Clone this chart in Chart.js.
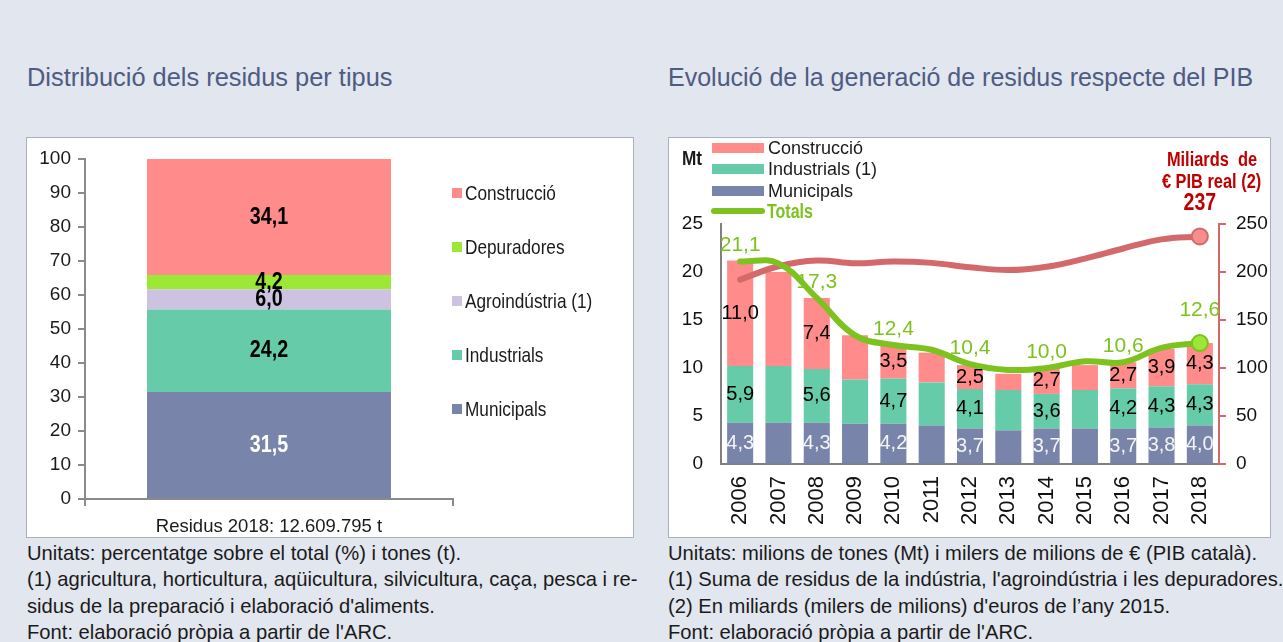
<!DOCTYPE html>
<html>
<head>
<meta charset="utf-8">
<script src="https://cdn.jsdelivr.net/npm/chart.js@4.4.1/dist/chart.umd.min.js"></script>
<style>
  body { margin: 0; width: 1283px; height: 642px; background: #e2e6ef; position: relative; overflow: hidden;
         font-family: 'Liberation Sans', Arial, sans-serif; color: #1a1a1a; }
  .abs { position: absolute; white-space: nowrap; }
  .title { font-size: 25.4px; color: #4e5b82; line-height: 30px; }
  .panel { background: #fff; border: 1px solid #a8aec6; box-sizing: border-box; }
  .cond { display: inline-block; transform: scaleX(0.82); transform-origin: left center; }
  .note { font-size: 20.2px; line-height: 26.4px; color: #1a1a1a; }
  .sw { position: absolute; }
</style>
</head>
<body>
<div class="abs title" style="left:27px; top:62px;">Distribució dels residus per tipus</div>
<div class="abs title" style="left:668px; top:62px; font-size:25px;">Evolució de la generació de residus respecte del PIB</div>

<div class="abs panel" style="left:26px; top:137px; width:608px; height:401px;"></div>
<div class="abs panel" style="left:668px; top:137px; width:603px; height:401px;"></div>

<canvas id="left" class="abs" width="606" height="399" style="left:27px; top:138px;"></canvas>
<canvas id="right" class="abs" width="601" height="399" style="left:669px; top:138px;"></canvas>

<div id="leftLegend"></div>
<div id="rightLegend"></div>

<div class="abs" style="left:682px; top:146px; font-size:21px; font-weight:bold; line-height:24px;"><span class="cond">Mt</span></div>
<div class="abs" style="left:1140px; top:148px; width:144px; text-align:center; font-size:20px; font-weight:bold; color:#c00000; line-height:22px;">
  <span class="cond" style="transform-origin:center;">Miliards&nbsp; de</span><br>
  <span class="cond" style="transform-origin:center;">€ PIB real (2)</span>
</div>

<div class="abs note" style="left:27px; top:540px;">Unitats: percentatge sobre el total (%) i tones (t).<br>(1) agricultura, horticultura, aqüicultura, silvicultura, caça, pesca i re-<br>sidus de la preparació i elaboració d'aliments.<br>Font: elaboració pròpia a partir de l'ARC.</div>
<div class="abs note" style="left:668px; top:540px;">Unitats: milions de tones (Mt) i milers de milions de € (PIB català).<br>(1) Suma de residus de la indústria, l'agroindústria i les depuradores.<br>(2) En miliards (milers de milions) d'euros de l’any 2015.<br>Font: elaboració pròpia a partir de l'ARC.</div>

<script>
// left chart: share of each waste type, 2018
const leftCategory = ['Residus 2018: 12.609.795 t']
const typeNames = ['Municipals', 'Industrials', 'Agroindústria (1)', 'Depuradores', 'Construcció']
const typeShares = [31.5, 24.2, 6.0, 4.2, 34.1]

// right chart: Mt per year and GDP
const years = ['2006', '2007', '2008', '2009', '2010', '2011', '2012', '2013', '2014', '2015', '2016', '2017', '2018']
const municipals = [4.3, 4.3, 4.3, 4.2, 4.2, 4.0, 3.7, 3.5, 3.7, 3.7, 3.7, 3.8, 4.0]
const industrials = [5.9, 5.9, 5.6, 4.6, 4.7, 4.5, 4.1, 4.2, 3.6, 4.0, 4.2, 4.3, 4.3]
const construccio = [11.0, 9.8, 7.4, 4.6, 3.5, 3.1, 2.5, 1.7, 2.7, 2.6, 2.7, 3.9, 4.3]
const totals = [21.1, 20.9, 17.3, 13.4, 12.4, 11.9, 10.4, 9.8, 10.0, 10.7, 10.6, 12.1, 12.6]
const pib = [192, 206, 212, 209, 211, 209.5, 205, 202, 205.5, 214, 224.5, 234, 237]
const labelledYears = ['2006', '2008', '2010', '2012', '2014', '2016', '2017', '2018']
const labelledTotals = ['2006', '2008', '2010', '2012', '2014', '2016', '2018']
const labelledPib = ['2018']

const typeColors = {
  'Municipals': '#7884a9',
  'Industrials': '#66cba8',
  'Agroindústria (1)': '#cdc2df',
  'Depuradores': '#9be936',
  'Construcció': '#ff8b8b'
}
const SANS = "'Liberation Sans', Arial, sans-serif"

const fmt = v => v.toFixed(1).replace('.', ',')

// draws the value labels; style per dataset label (sx = horizontal squeeze)
const valueLabels = {
  id: 'valueLabels',
  afterDatasetsDraw(chart, args, opts) {
    const ctx = chart.ctx
    chart.data.datasets.forEach((ds, i) => {
      const st = opts.styles[ds.label]
      if (!st) return
      const meta = chart.getDatasetMeta(i)
      meta.data.forEach((el, j) => {
        const cat = chart.data.labels[j]
        if (st.only && !st.only.includes(cat)) return
        let y = el.y
        if (meta.type === 'bar') y = (el.y + el.base) / 2
        else y = el.y - (el.options.radius > 0 ? 33 : 16)
        ctx.save()
        ctx.textAlign = 'center'
        ctx.textBaseline = 'middle'
        ctx.font = st.font
        ctx.fillStyle = st.color
        ctx.translate(el.x, y)
        ctx.scale(st.sx || 1, 1)
        ctx.fillText(st.format ? st.format(ds.data[j]) : fmt(ds.data[j]), 0, 0)
        ctx.restore()
      })
    })
  }
}

// left legend
const leftLegend = document.getElementById('leftLegend')
typeNames.slice().reverse().forEach((n, k) => {
  const cy = 193 + k * 54
  leftLegend.innerHTML +=
    `<div class="sw" style="left:452px; top:${cy - 5}px; width:10px; height:10px; background:${typeColors[n]}"></div>` +
    `<div class="abs" style="left:465px; top:${cy - 12}px; font-size:21px; line-height:24px; color:#1a1a1a"><span class="cond">${n}</span></div>`
})

// right legend
const rightItems = [['Construcció', typeColors['Construcció'], 148], ['Industrials (1)', typeColors['Industrials'], 169], ['Municipals', typeColors['Municipals'], 191]]
const rightLegend = document.getElementById('rightLegend')
rightItems.forEach(([n, c, cy]) => {
  rightLegend.innerHTML +=
    `<div class="sw" style="left:712px; top:${cy - 5}px; width:52px; height:10px; background:${c}"></div>` +
    `<div class="abs" style="left:768px; top:${cy - 11}px; font-size:18px; line-height:22px">${n}</div>`
})
rightLegend.innerHTML +=
  `<div class="sw" style="left:711px; top:208px; width:54px; height:6px; border-radius:3px; background:#7dc21e"></div>` +
  `<div class="abs" style="left:767px; top:199px; font-size:20px; line-height:24px; font-weight:bold; color:#7dc21e"><span class="cond" style="transform:scaleX(0.8)">Totals</span></div>`

new Chart(document.getElementById('left'), {
  type: 'bar',
  data: {
    labels: leftCategory,
    datasets: typeNames.map((n, i) => ({
      label: n,
      data: [typeShares[i]],
      backgroundColor: typeColors[n],
      barPercentage: 0.663,
      categoryPercentage: 1
    }))
  },
  options: {
    responsive: false,
    animation: false,
    devicePixelRatio: 1,
    layout: { padding: { left: 0, right: 180, top: 21, bottom: 0 } },
    plugins: {
      legend: { display: false },
      tooltip: { enabled: false },
      valueLabels: {
        styles: {
          'Municipals': { font: 'bold 24px ' + SANS, color: '#ffffff', sx: 0.82 },
          'Industrials': { font: 'bold 24px ' + SANS, color: '#000', sx: 0.82 },
          'Agroindústria (1)': { font: 'bold 24px ' + SANS, color: '#000', sx: 0.82 },
          'Depuradores': { font: 'bold 24px ' + SANS, color: '#000', sx: 0.82 },
          'Construcció': { font: 'bold 24px ' + SANS, color: '#000', sx: 0.82 }
        }
      }
    },
    scales: {
      x: {
        stacked: true,
        grid: { display: true, drawOnChartArea: false, drawTicks: true, tickLength: 7, color: '#8a8a8a', lineWidth: 2, offset: true },
        border: { color: '#8a8a8a', width: 2 },
        ticks: { font: { family: SANS, size: 18.5 }, color: '#1a1a1a', padding: 10 },
        afterFit: s => { s.height = 38 }
      },
      y: {
        stacked: true,
        min: 0,
        max: 100,
        grid: { display: true, drawOnChartArea: false, drawTicks: true, tickLength: 7, color: '#8a8a8a', lineWidth: 2 },
        border: { color: '#8a8a8a', width: 2 },
        ticks: { stepSize: 10, font: { family: SANS, size: 19 }, color: '#1a1a1a', padding: 7 },
        afterFit: s => { s.width = 58 }
      }
    }
  },
  plugins: [valueLabels]
})

new Chart(document.getElementById('right'), {
  type: 'bar',
  data: {
    labels: years,
    datasets: [
      {
        type: 'line', label: 'Totals', data: totals, yAxisID: 'y', order: 0,
        borderColor: '#7dc21e', borderWidth: 6, tension: 0.4, borderCapStyle: 'round',
        pointRadius: totals.map((v, i) => i === totals.length - 1 ? 8 : 0),
        pointBackgroundColor: '#9be636', pointBorderColor: '#7dc21e', pointBorderWidth: 2
      },
      {
        type: 'line', label: 'PIB', data: pib, yAxisID: 'y2', order: 1,
        borderColor: '#d4696c', borderWidth: 6, tension: 0.4, borderCapStyle: 'round',
        pointRadius: pib.map((v, i) => i === pib.length - 1 ? 8 : 0),
        pointBackgroundColor: '#f78e8e', pointBorderColor: '#d4696c', pointBorderWidth: 2
      },
      { label: 'Municipals', data: municipals, backgroundColor: typeColors['Municipals'], order: 2, yAxisID: 'y', barPercentage: 0.68, categoryPercentage: 1 },
      { label: 'Industrials (1)', data: industrials, backgroundColor: typeColors['Industrials'], order: 2, yAxisID: 'y', barPercentage: 0.68, categoryPercentage: 1 },
      { label: 'Construcció', data: construccio, backgroundColor: typeColors['Construcció'], order: 2, yAxisID: 'y', barPercentage: 0.68, categoryPercentage: 1 }
    ]
  },
  options: {
    responsive: false,
    animation: false,
    devicePixelRatio: 1,
    layout: { padding: { left: 0, right: 0, top: 86, bottom: 0 } },
    plugins: {
      legend: { display: false },
      tooltip: { enabled: false },
      valueLabels: {
        styles: {
          'Municipals': { font: '20px ' + SANS, color: '#f4f4f4', only: labelledYears },
          'Industrials (1)': { font: '20px ' + SANS, color: '#000', only: labelledYears },
          'Construcció': { font: '20px ' + SANS, color: '#000', only: labelledYears },
          'Totals': { font: '21px ' + SANS, color: '#7dc21e', only: labelledTotals },
          'PIB': { font: 'bold 23px ' + SANS, color: '#c00000', only: labelledPib, format: v => String(v), sx: 0.85 }
        }
      }
    },
    scales: {
      x: {
        stacked: true,
        grid: { display: true, drawOnChartArea: false, drawTicks: false },
        border: { color: '#808080', width: 2 },
        ticks: { font: { family: SANS, size: 22 }, color: '#111', minRotation: 90, maxRotation: 90, autoSkip: false, padding: 12 },
        afterFit: s => { s.height = 73 }
      },
      y: {
        position: 'left',
        stacked: true,
        min: 0,
        max: 25,
        grid: { display: true, drawOnChartArea: false, drawTicks: false },
        border: { color: '#808080', width: 2 },
        ticks: { stepSize: 5, font: { family: SANS, size: 19 }, color: '#111', padding: 18 },
        afterFit: s => { s.width = 52 }
      },
      y2: {
        position: 'right',
        min: 0,
        max: 250,
        grid: { display: true, drawOnChartArea: false, drawTicks: true, tickLength: 7, color: '#d4696c', lineWidth: 2 },
        border: { color: '#d4696c', width: 2 },
        ticks: { stepSize: 50, font: { family: SANS, size: 19 }, color: '#111', padding: 10 },
        afterFit: s => { s.width = 51 }
      }
    }
  },
  plugins: [valueLabels]
})
</script>
</body>
</html>
